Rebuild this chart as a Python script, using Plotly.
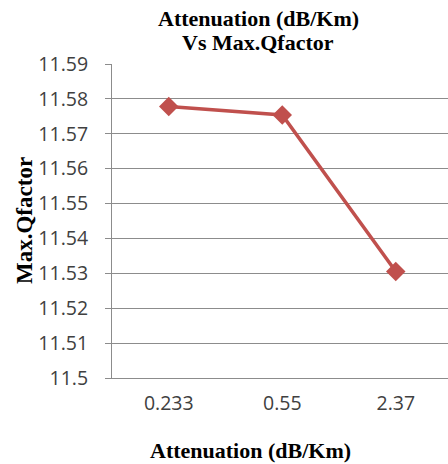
import plotly.graph_objects as go

# Attenuation values (category labels) and the resulting maximum Q factor
attenuation = ["0.233", "0.55", "2.37"]
max_qfactor = [11.5778, 11.5754, 11.5305]

y_ticks = [11.5, 11.51, 11.52, 11.53, 11.54, 11.55, 11.56, 11.57, 11.58, 11.59]

chart_title = ["Attenuation (dB/Km)", "Vs Max.Qfactor"]
x_title = "Attenuation (dB/Km)"
y_title = "Max.Qfactor"

RED = "#C0504D"
GRID = "#8C8C8C"
TICK_FONT = dict(family="Open Sans", size=19.5, color="#404040")
SERIF_FONT = dict(family="Liberation Serif", size=22, color="black")

fig = go.Figure(
    go.Scatter(
        x=attenuation,
        y=max_qfactor,
        mode="lines+markers",
        line=dict(color=RED, width=3.5),
        marker=dict(symbol="diamond", size=15, color=RED),
        showlegend=False,
    )
)

# Chart title (two lines) and axis titles as pixel-anchored annotations
annotations = [
    dict(text=f"<b>{chart_title[0]}</b>", x=258, y=464 - 18),
    dict(text=f"<b>{chart_title[1]}</b>", x=258, y=464 - 43),
    dict(text=f"<b>{x_title}</b>", x=250, y=464 - 450),
]
layout_annotations = []
for a in annotations:
    layout_annotations.append(
        dict(
            text=a["text"],
            xref="paper",
            yref="paper",
            x=(a["x"] - 112) / 336,
            y=(a["y"] - 86) / 314,
            xanchor="center",
            yanchor="middle",
            showarrow=False,
            font=SERIF_FONT,
        )
    )
layout_annotations.append(
    dict(
        text=f"<b>{y_title}</b>",
        xref="paper",
        yref="paper",
        x=(24 - 112) / 336,
        y=(464 - 221 - 86) / 314,
        xanchor="center",
        yanchor="middle",
        textangle=-90,
        showarrow=False,
        font=dict(family="Liberation Serif", size=23, color="black"),
    )
)

fig.update_layout(
    width=448,
    height=464,
    margin=dict(l=112, r=0, t=64, b=86),
    paper_bgcolor="white",
    plot_bgcolor="white",
    annotations=layout_annotations,
    xaxis=dict(
        type="category",
        range=[-0.5, 2.46],
        showgrid=False,
        showline=True,
        linecolor=GRID,
        linewidth=1,
        ticks="",
        tickfont=TICK_FONT,
        ticklabelstandoff=8,
    ),
    yaxis=dict(
        range=[11.5, 11.59],
        tickvals=y_ticks,
        ticktext=[f"{v:g}" for v in y_ticks],
        showgrid=True,
        gridcolor=GRID,
        gridwidth=1,
        showline=True,
        linecolor=GRID,
        linewidth=1,
        ticks="outside",
        ticklen=6,
        tickcolor=GRID,
        tickfont=TICK_FONT,
        ticklabelstandoff=13,
        zeroline=False,
    ),
)

fig.write_html("out.html")
